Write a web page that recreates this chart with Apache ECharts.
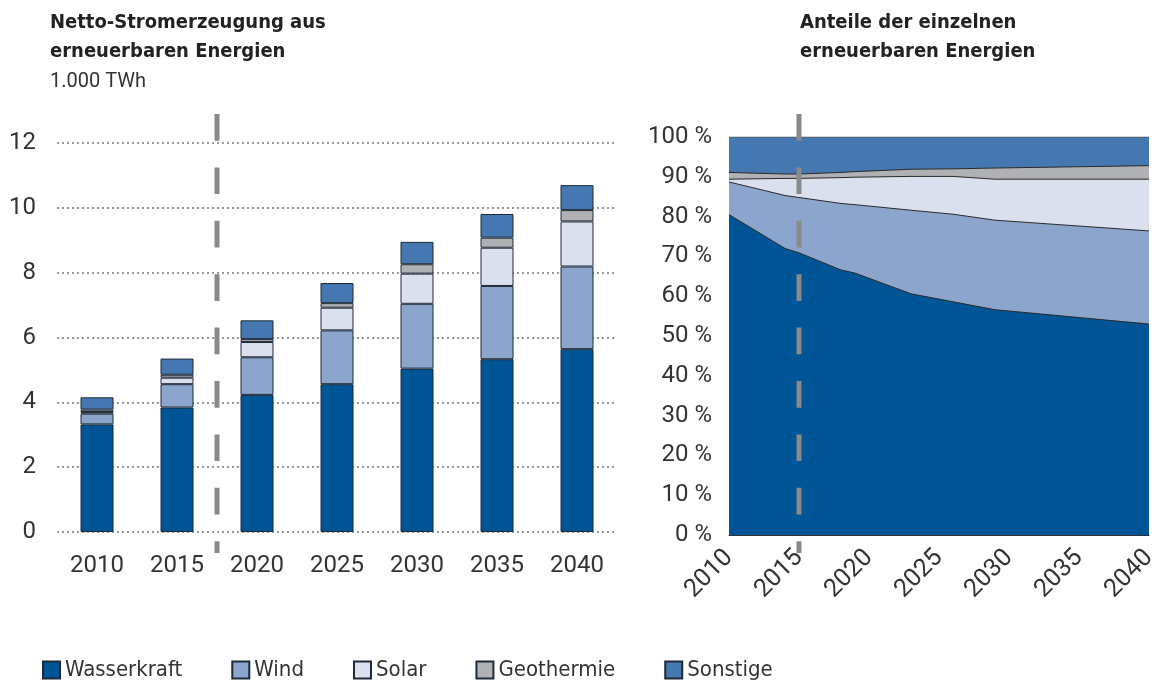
<!DOCTYPE html>
<html>
<head>
<meta charset="utf-8">
<script src="https://cdn.jsdelivr.net/npm/echarts@6/dist/echarts.min.js"></script>
<style>
  html, body { margin: 0; padding: 0; background: #fff; }
  #grafico { width: 1160px; height: 684px; }
</style>
</head>
<body>
<div id="grafico"></div>
<script>
var anios = ["2010", "2015", "2020", "2025", "2030", "2035", "2040"];
var wasserkraft = [3.32, 3.84, 4.23, 4.56, 5.04, 5.33, 5.64];
var wind = [0.33, 0.72, 1.16, 1.66, 2.00, 2.26, 2.55];
var solar = [0.05, 0.20, 0.47, 0.70, 0.93, 1.18, 1.39];
var geothermie = [0.075, 0.09, 0.09, 0.14, 0.29, 0.31, 0.35];
var sonstige = [0.38, 0.50, 0.58, 0.62, 0.69, 0.73, 0.77];

var anteilJahre = [2010, 2014, 2015, 2018, 2019, 2023, 2026, 2029, 2040];
var anteilWasser = [80.5, 72.0, 70.9, 66.6, 65.8, 60.6, 58.6, 56.6, 53.0];
var anteilWind = [8.2, 13.3, 13.9, 16.7, 17.2, 21.0, 22.0, 22.5, 23.4];
var anteilSolar = [0.7, 4.3, 4.8, 6.5, 6.9, 8.5, 9.5, 10.3, 13.0];
var anteilGeo = [1.7, 1.1, 1.1, 1.3, 1.4, 1.8, 1.9, 2.8, 3.4];
var anteilSonstige = [8.9, 9.3, 9.3, 8.9, 8.7, 8.1, 8.0, 7.8, 7.2];

var yTicksLinks = [0, 2, 4, 6, 8, 10, 12];
var yTicksRechts = [0, 10, 20, 30, 40, 50, 60, 70, 80, 90, 100];

var namen = ["Wasserkraft", "Wind", "Solar", "Geothermie", "Sonstige"];
var farben = ["#005596", "#8ba5cc", "#dbe0ee", "#b0b1b4", "#4577b0"];

var schrift = "Roboto, 'Liberation Sans', sans-serif";
var schmal = "'Liberation Sans Narrow', 'DejaVu Sans Condensed', 'Liberation Sans', sans-serif";

// obere kante jeder flaeche = summe der anteile bis dahin
function kumuliert(listen, bis){
    var r = [];
    anteilJahre.forEach(function(jahr, j){
        var s = 0;
        for (var k = 0; k <= bis; k++) { s += listen[k][j]; }
        r.push([jahr, Math.round(s * 10) / 10]);
    });
    return r;
}

function grafico(){
    var dom = document.getElementById("grafico");
    var myChart = echarts.init(dom);
    var balken = [wasserkraft, wind, solar, geothermie, sonstige];
    var anteile = [anteilWasser, anteilWind, anteilSolar, anteilGeo, anteilSonstige];
    var series = [];

    balken.forEach(function(werte, i){
        series.push({
            name: namen[i],
            type: "bar",
            stack: "twh",
            xAxisIndex: 0,
            yAxisIndex: 0,
            barWidth: 33,
            data: werte,
            itemStyle: { color: farben[i], borderColor: "#1e2a38", borderWidth: 1 }
        });
    });
    // von oben nach unten zeichnen, damit die unteren flaechen vorne liegen
    for (var i = anteile.length - 1; i >= 0; i--) {
        series.push({
            name: namen[i],
            type: "line",
            xAxisIndex: 1,
            yAxisIndex: 1,
            showSymbol: false,
            data: kumuliert(anteile, i),
            lineStyle: { color: i == anteile.length - 1 ? "#555" : "#2a2a2a", width: 1 },
            areaStyle: { color: farben[i], opacity: 1, origin: "start" },
            itemStyle: { color: farben[i] }
        });
    }

    var option = {
        animation: false,
        textStyle: { fontFamily: schrift },
        title: [{
            text: "Netto-Stromerzeugung aus\nerneuerbaren Energien",
            subtext: "1.000 TWh",
            left: 45, top: 3, itemGap: 1,
            textStyle: { fontFamily: schmal, fontSize: 20, fontWeight: "bold", color: "#222", lineHeight: 29 },
            subtextStyle: { fontFamily: schrift, fontSize: 20, color: "#333", lineHeight: 29 }
        }, {
            text: "Anteile der einzelnen\nerneuerbaren Energien",
            left: 795, top: 3,
            textStyle: { fontFamily: schmal, fontSize: 20, fontWeight: "bold", color: "#222", lineHeight: 29 }
        }],
        legend: {
            data: namen,
            left: 37, top: 654,
            icon: "rect",
            itemWidth: 17, itemHeight: 17, itemGap: 49,
            textStyle: { fontFamily: schmal, fontSize: 22, color: "#333" }
        },
        grid: [
            { left: 57, top: 143, width: 560, height: 389 },
            { left: 729, top: 137, width: 420, height: 398 }
        ],
        xAxis: [{
            type: "category", gridIndex: 0, data: anios,
            axisLine: { show: false }, axisTick: { show: false },
            axisLabel: { fontSize: 24, color: "#333", margin: 22 }
        }, {
            type: "value", gridIndex: 1, min: 2010, max: 2040, interval: 5,
            axisLine: { show: true, lineStyle: { color: "#333", width: 1 } },
            axisTick: { show: false }, splitLine: { show: false },
            axisLabel: { fontSize: 25, color: "#333", rotate: 45, margin: 19, formatter: function(v){ return String(v); } }
        }],
        yAxis: [{
            type: "value", gridIndex: 0, min: yTicksLinks[0], max: yTicksLinks[yTicksLinks.length - 1], interval: 2,
            axisLine: { show: false }, axisTick: { show: false },
            axisLabel: { fontSize: 24, color: "#333", margin: 21 },
            splitLine: { show: true, lineStyle: { color: "#777", type: [2, 3], width: 1.5 } }
        }, {
            type: "value", gridIndex: 1, min: yTicksRechts[0], max: yTicksRechts[yTicksRechts.length - 1], interval: 10,
            axisLine: { show: false }, axisTick: { show: false },
            axisLabel: { fontSize: 24, color: "#333", margin: 17, formatter: "{value} %" },
            splitLine: { show: false }
        }],
        series: series
    };
    myChart.setOption(option, true);

    // gestrichelte trennlinie bei 2015
    var xa = myChart.convertToPixel({ xAxisIndex: 0 }, "2015");
    var xb = myChart.convertToPixel({ xAxisIndex: 0 }, "2020");
    var xr = myChart.convertToPixel({ xAxisIndex: 1 }, 2015);
    var strich = { stroke: "#8a8a8a", lineWidth: 5, lineDash: [26.7, 26.7] };
    myChart.setOption({
        graphic: [
            { type: "line", z: 100, shape: { x1: (xa + xb) / 2, y1: 114, x2: (xa + xb) / 2, y2: 553 }, style: strich },
            { type: "line", z: 100, shape: { x1: xr, y1: 114, x2: xr, y2: 553 }, style: strich }
        ]
    });
}

grafico();
</script>
</body>
</html>
